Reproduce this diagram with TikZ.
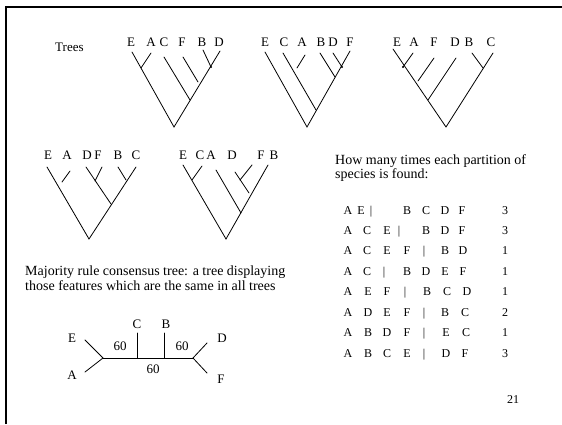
\documentclass[tikz,border=0pt]{standalone}
\usepackage{fontspec}
\setmainfont{Liberation Serif}
\begin{document}
\begin{tikzpicture}[x=1pt,y=-1pt,
  branch/.style={line width=0.8pt, line cap=round},
  leaf/.style={font=\fontsize{13}{13}\selectfont, anchor=base, inner sep=0pt},
  body/.style={font=\fontsize{14}{14}\selectfont, anchor=base west, inner sep=0pt},
  cell/.style={font=\fontsize{12}{12}\selectfont, anchor=base, inner sep=0pt},
  knot/.style={circle, fill, inner sep=0pt, minimum size=2.2pt}]
\useasboundingbox (0,0) rectangle (562,424);

% slide frame
\draw[line width=2.5pt, line join=miter] (6,424) -- (6,7) -- (562,7);

\node[body, font=\fontsize{13}{13}\selectfont] (title) at (55,51) {Trees};

% ---- tree 1: E A C F B D
\foreach \n/\x in {E/131, A/151, C/164, F/182, B/202, D/219}
  \node[leaf] (t1\n) at (\x,46) {\n};
\draw[branch] (132,52) -- (174,127) -- (220,51);
\draw[branch] (151,53) -- (141,68);
\draw[branch] (164,57) -- (190,100);
\draw[branch] (183,57) -- (198,82);
\draw[branch] (203,50) -- (211,67);
\node[knot] (t1k) at (211,67) {};

% ---- tree 2: E C A B D F
\foreach \n/\x in {E/265, C/284, A/302, B/321, D/333, F/350}
  \node[leaf] (t2\n) at (\x,46) {\n};
\draw[branch] (265,52) -- (307,127) -- (350,51);
\draw[branch] (283,53) -- (316,110);
\draw[branch] (305,55) -- (297,68);
\draw[branch] (320,53) -- (335,77);
\draw[branch] (333,53) -- (342,67);
\node[knot] (t2k) at (342,67) {};

% ---- tree 3: E A F D B C
\foreach \n/\x in {E/397, A/414, F/434, D/455, B/469, C/491}
  \node[leaf] (t3\n) at (\x,46) {\n};
\draw[branch] (393,49) -- (446,127) -- (493,53);
\draw[branch] (413,53) -- (403,67);
\draw[branch] (434,58) -- (418,81);
\draw[branch] (456,58) -- (428,100);
\draw[branch] (472,53) -- (483,68);
\node[knot] (t3k) at (403,67) {};

% ---- tree 4: E A D F B C
\foreach \n/\x in {E/48, A/67, D/87, F/98, B/118, C/136}
  \node[leaf] (t4\n) at (\x,159) {\n};
\draw[branch] (47,167) -- (89,239) -- (136,167);
\draw[branch] (70,171) -- (62,182);
\draw[branch] (86,167) -- (111,204);
\draw[branch] (102,167) -- (95,181);
\draw[branch] (118,167) -- (126,180);

% ---- tree 5: E C A D F B
\foreach \n/\x in {E/183, C/200, A/211, D/232, F/261, B/274}
  \node[leaf] (t5\n) at (\x,159) {\n};
\draw[branch] (183,165) -- (226,239) -- (268,165);
\draw[branch] (202,166) -- (192,180);
\draw[branch] (216,170) -- (241,213);
\draw[branch] (235,172) -- (249,193);
\draw[branch] (252,165) -- (240,180);

% ---- explanatory text
\node[body] (maj1) at (25,275) {Majority rule consensus tree: a tree displaying};
\node[body] (maj2) at (25,290) {those features which are the same in all trees};
\node[body] (how1) at (335,164) {How many times each partition of};
\node[body] (how2) at (335,178) {species is found:};

% ---- consensus tree
\coordinate (jl) at (103,358);
\coordinate (jc) at (137,358);
\coordinate (jb) at (164,358);
\coordinate (jr) at (193,358);
\coordinate (eE) at (85,340);
\coordinate (eA) at (85,372);
\coordinate (eC) at (137,333);
\coordinate (eB) at (164,333);
\coordinate (eD) at (207,343);
\coordinate (eF) at (207,373);
\draw[branch] (jl) -- (jr);
\draw[branch] (eE) -- (jl) -- (eA);
\draw[branch] (eC) -- (jc);
\draw[branch] (eB) -- (jb);
\draw[branch] (eD) -- (jr) -- (eF);
\node[leaf] (cE) at (72,342) {E};
\node[leaf] (cA) at (72,379) {A};
\node[leaf] (cC) at (137,328) {C};
\node[leaf] (cB) at (166,328) {B};
\node[leaf] (cD) at (222,342) {D};
\node[leaf] (cF) at (221,383) {F};
\node[leaf] (w1) at (120,350) {60};
\node[leaf] (w2) at (182,350) {60};
\node[leaf] (w3) at (153,373) {60};

% ---- partition table
\foreach \r/\y/\row in {
  1/214/{A/348,E/361,|/371,B/407,C/426,D/445,F/462,3/505},
  2/234/{A/348,C/367,E/387,|/399,B/426,D/445,F/462,3/505},
  3/254/{A/348,C/367,E/387,F/407,|/424,B/445,D/463,1/505},
  4/275/{A/348,C/367,|/384,B/407,D/426,E/445,F/463,1/505},
  5/295/{A/348,E/368,F/387,|/405,B/427,C/447,D/467,1/505},
  6/316/{A/348,D/368,E/387,F/407,|/424,B/445,C/465,2/505},
  7/336/{A/348,B/368,D/387,F/407,|/424,E/446,C/466,1/505},
  8/357/{A/348,B/368,C/387,E/407,|/424,D/446,F/465,3/505}}
  \foreach \s/\x [count=\c] in \row
    \node[cell] (p\r-\c) at (\x,\y) {\s};

\node[cell] (page) at (513,403) {21};
\end{tikzpicture}
\end{document}
